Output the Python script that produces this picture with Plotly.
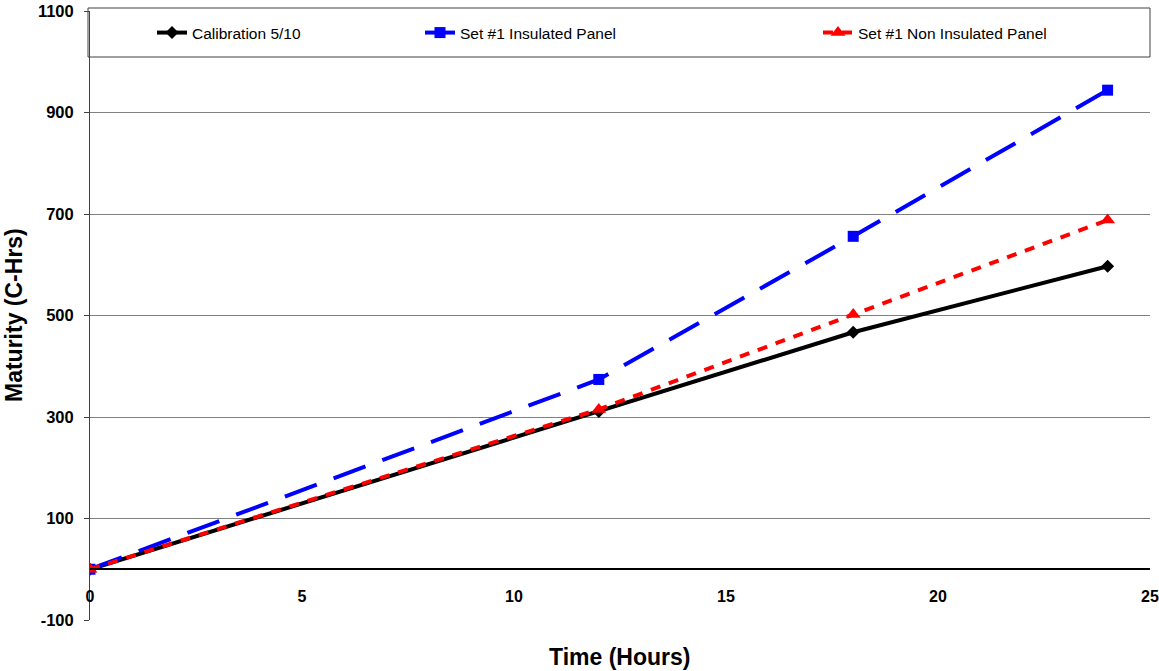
import plotly.graph_objects as go

time_hours = [0, 12, 18, 24]
calibration = [0, 311, 467, 597]
insulated = [0, 374, 656, 944]
non_insulated = [0, 315, 502, 688]

series_names = ["Calibration 5/10", "Set #1 Insulated Panel", "Set #1 Non Insulated Panel"]
y_ticks = [-100, 100, 300, 500, 700, 900, 1100]
y_tick_text = ["-100", "100", "300", "500", "700", "900", "1100"]
x_ticks = [0, 5, 10, 15, 20, 25]
x_tick_text = ["0", "5", "10", "15", "20", "25"]

FONT = "Liberation Sans, Arial, sans-serif"

fig = go.Figure()
fig.add_trace(go.Scatter(
    x=time_hours, y=calibration, name=series_names[0], mode="lines+markers",
    line=dict(color="black", width=4),
    marker=dict(symbol="diamond", size=10, color="black"),
    legend="legend"))
fig.add_trace(go.Scatter(
    x=time_hours, y=insulated, name=series_names[1], mode="lines+markers",
    line=dict(color="#0000FF", width=4, dash="34px,18px"),
    marker=dict(symbol="square", size=11, color="#0000FF"),
    legend="legend2"))
fig.add_trace(go.Scatter(
    x=time_hours, y=non_insulated, name=series_names[2], mode="lines+markers",
    line=dict(color="#FF0000", width=4, dash="10px,9px"),
    marker=dict(symbol="triangle-up", size=13, color="#FF0000"),
    legend="legend3"))

W, H = 1159, 671
ml, mr, mt, mb = 90, 9, 11, 51
pw = W - ml - mr
ph = H - mt - mb

def px_x(p):
    return (p - ml) / pw

def px_y(p):
    return (H - mb - p) / ph

leg_common = dict(orientation="h", yanchor="middle", y=px_y(33), xanchor="left",
                  bgcolor="rgba(0,0,0,0)", borderwidth=0,
                  font=dict(family=FONT, size=15.5, color="black"))

fig.update_layout(
    width=W, height=H,
    margin=dict(l=ml, r=mr, t=mt, b=mb, autoexpand=False),
    paper_bgcolor="white", plot_bgcolor="white",
    font=dict(family=FONT, color="black"),
    showlegend=True,
    legend=dict(x=px_x(152), **leg_common),
    legend2=dict(x=px_x(420), **leg_common),
    legend3=dict(x=px_x(818), **leg_common),
    shapes=[dict(type="rect", xref="paper", yref="paper",
                 x0=px_x(88), x1=px_x(1150), y0=px_y(57), y1=px_y(8),
                 line=dict(color="#404040", width=1), fillcolor="white", layer="below")],
    xaxis=dict(range=[0, 25], tickvals=x_ticks, ticktext=x_tick_text,
               showgrid=False, zeroline=False,
               showline=True, linecolor="black", linewidth=1.5,
               anchor="free", position=1/12, automargin=False,
               ticks="", ticklabelstandoff=13,
               tickfont=dict(family=FONT, size=16, color="black", weight="bold")),
    yaxis=dict(range=[-100, 1100], tickvals=y_ticks, ticktext=y_tick_text,
               showgrid=True, gridcolor="#808080",
               gridwidth=1, zeroline=False, showline=True, linecolor="#404040", linewidth=1,
               ticks="outside", ticklen=5, tickcolor="#404040", automargin=False,
               ticklabelstandoff=7,
               tickfont=dict(family=FONT, size=16.5, color="black", weight="bold")),
)

fig.add_annotation(text="<b>Time (Hours)</b>", xref="paper", yref="paper",
                   x=px_x(619), y=px_y(657), xanchor="center", yanchor="middle",
                   showarrow=False,
                   font=dict(family=FONT, size=23, color="black"))
fig.add_annotation(text="<b>Maturity (C-Hrs)</b>", xref="paper", yref="paper",
                   x=px_x(14), y=px_y(315), xanchor="center", yanchor="middle",
                   showarrow=False, textangle=-90,
                   font=dict(family=FONT, size=23, color="black"))

fig.write_html("out.html")
